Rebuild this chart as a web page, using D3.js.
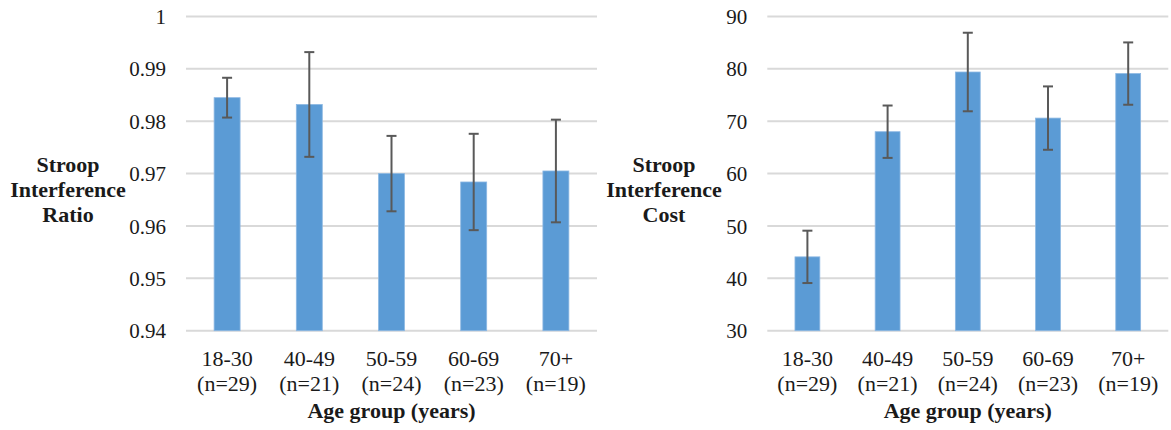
<!DOCTYPE html>
<html>
<head>
<meta charset="utf-8">
<script src="https://cdn.jsdelivr.net/npm/d3@7/dist/d3.min.js"></script>
</head>
<body style="margin:0;padding:0;background:#fff">
<svg id="chart" width="1171" height="430" style="display:block"></svg>
<script>
// Age groups and group sizes
const ageGroups = ["18-30", "40-49", "50-59", "60-69", "70+"];
const groupSizes = ["(n=29)", "(n=21)", "(n=24)", "(n=23)", "(n=19)"];

// Stroop interference ratio: means and error half-widths
const ratioMeans  = [0.9845, 0.9832, 0.9700, 0.9684, 0.9705];
const ratioErrors = [0.0038, 0.0100, 0.0072, 0.0092, 0.0098];
const ratioTicks  = [0.94, 0.95, 0.96, 0.97, 0.98, 0.99, 1];

// Stroop interference cost: means and error half-widths
const costMeans  = [44.1, 68.0, 79.4, 70.6, 79.1];
const costErrors = [5.0, 5.0, 7.5, 6.05, 5.95];
const costTicks  = [30, 40, 50, 60, 70, 80, 90];

const INK = "#1a1a1a";
const SERIF = '"Times New Roman", "Liberation Serif", Tinos, serif';

const svg = d3.select("#chart");

function label(sel, size, bold) {
  return sel
    .style("font-family", SERIF, "important")
    .style("font-size", size + "px", "important")
    .style("font-weight", bold ? "700" : "400", "important")
    .attr("fill", INK);
}

function drawPanel(opts) {
  const { x0, x1, yTop, yBottom, means, errors, ticks, domain, fmt, titleLines, titleX, padding } = opts;
  const g = svg.append("g");

  const x = d3.scaleBand().domain(ageGroups).range([x0, x1]).paddingInner(padding).paddingOuter(padding / 2);
  const y = d3.scaleLinear().domain(domain).range([yBottom, yTop]);

  // gridlines
  g.selectAll("line.grid").data(ticks).join("line")
    .attr("x1", x0).attr("x2", x1)
    .attr("y1", d => y(d)).attr("y2", d => y(d))
    .attr("stroke", "#d9d9d9").attr("stroke-width", 2);

  // y tick labels, written as plain text elements
  g.selectAll("text.ytick").data(ticks).join("text")
    .call(s => label(s, 21, false))
    .attr("text-anchor", "end")
    .attr("x", x0 - 20).attr("y", d => y(d)).attr("dy", "0.36em")
    .text(fmt);

  // bars
  g.selectAll("rect.bar").data(means).join("rect")
    .attr("x", (d, i) => x(ageGroups[i]))
    .attr("width", x.bandwidth())
    .attr("y", d => y(d))
    .attr("height", d => y(domain[0]) - y(d))
    .attr("fill", "#5b9bd5")
    .attr("stroke", "#8db8e3").attr("stroke-width", 0.8);

  // error bars
  const cx = i => x(ageGroups[i]) + x.bandwidth() / 2;
  const eb = g.selectAll("g.err").data(means).join("g").attr("stroke", "#595959").attr("stroke-width", 2);
  eb.append("line").attr("x1", (d, i) => cx(i)).attr("x2", (d, i) => cx(i))
    .attr("y1", (d, i) => y(d + errors[i])).attr("y2", (d, i) => y(d - errors[i]));
  eb.append("line").attr("x1", (d, i) => cx(i) - 5).attr("x2", (d, i) => cx(i) + 5)
    .attr("y1", (d, i) => y(d + errors[i])).attr("y2", (d, i) => y(d + errors[i]));
  eb.append("line").attr("x1", (d, i) => cx(i) - 5).attr("x2", (d, i) => cx(i) + 5)
    .attr("y1", (d, i) => y(d - errors[i])).attr("y2", (d, i) => y(d - errors[i]));

  // x category labels (two lines each)
  ageGroups.forEach((grp, i) => {
    const xc = x(grp) + x.bandwidth() / 2;
    label(g.append("text"), 22, false).attr("text-anchor", "middle")
      .attr("x", xc).attr("y", 366).text(grp);
    label(g.append("text"), 22, false).attr("text-anchor", "middle")
      .attr("x", xc).attr("y", 391).text(groupSizes[i]);
  });

  // x axis title
  label(g.append("text"), 22, true).attr("text-anchor", "middle")
    .attr("x", (x0 + x1) / 2).attr("y", 418).text("Age group (years)");

  // y axis title, one text per line
  titleLines.forEach((t, k) => {
    label(g.append("text"), 22, true).attr("text-anchor", "middle")
      .attr("x", titleX).attr("y", 172 + k * 25).text(t);
  });
}

drawPanel({
  x0: 186, x1: 597, yTop: 16.5, yBottom: 330.7,
  means: ratioMeans, errors: ratioErrors, ticks: ratioTicks,
  domain: [0.94, 1], fmt: d => (d === 1 ? "1" : d3.format(".2f")(d)),
  titleLines: ["Stroop", "Interference", "Ratio"], titleX: 68, padding: 0.684
});

drawPanel({
  x0: 767.3, x1: 1168.3, yTop: 16.5, yBottom: 330.7,
  means: costMeans, errors: costErrors, ticks: costTicks,
  domain: [30, 90], fmt: d3.format("d"),
  titleLines: ["Stroop", "Interference", "Cost"], titleX: 664, padding: 0.69
});
</script>
</body>
</html>
